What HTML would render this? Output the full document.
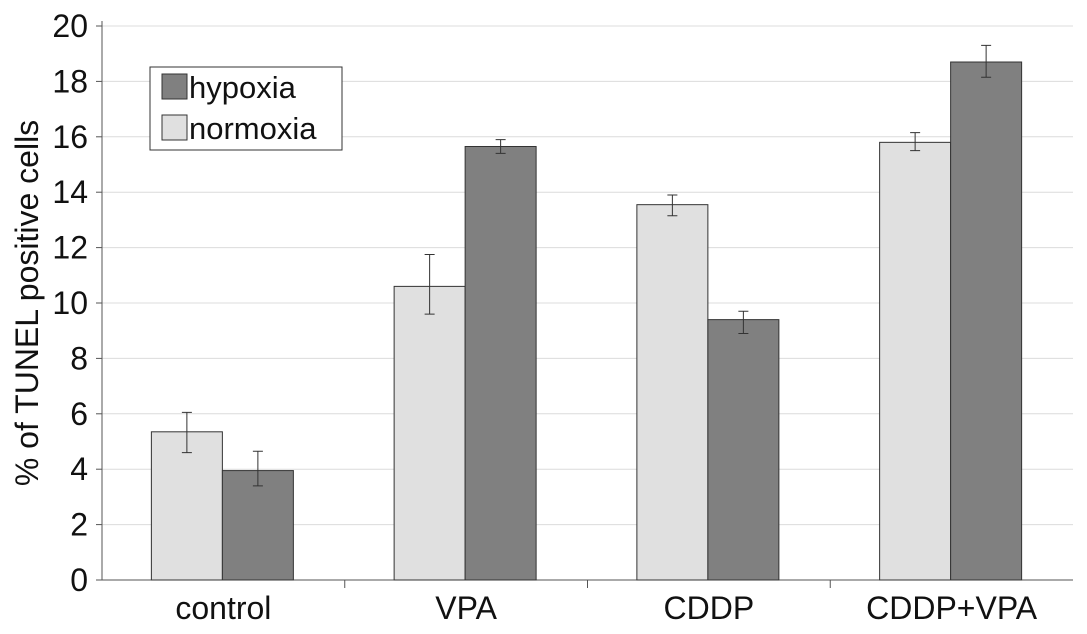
<!DOCTYPE html>
<html><head><meta charset="utf-8"><style>
html,body{margin:0;padding:0;background:#fff;}
svg{display:block;font-family:"Liberation Sans",Arial,sans-serif;}
</style></head><body>
<svg id="chart" width="1087" height="634"></svg>
<script>
const categories=["control","VPA","CDDP","CDDP+VPA"];
const normoxia=[5.35,10.6,13.55,15.8];
const normoxiaErrLow=[4.6,9.6,13.15,15.5];
const normoxiaErrHigh=[6.05,11.75,13.9,16.15];
const hypoxia=[3.95,15.65,9.4,18.7];
const hypoxiaErrLow=[3.4,15.4,8.9,18.15];
const hypoxiaErrHigh=[4.65,15.9,9.7,19.3];
const yTicks=[0,2,4,6,8,10,12,14,16,18,20];

const NS="http://www.w3.org/2000/svg";
const svg=document.getElementById('chart');
const X0=102,X1=1073,Y0=580,Y1=26;
const y=v=>Y0-(v/20)*(Y0-Y1);
const groupW=(X1-X0)/categories.length;
const gx=i=>X0+i*groupW;
function mk(t,a,p){const e=document.createElementNS(NS,t);for(const k in a)e.setAttribute(k,a[k]);(p||svg).appendChild(e);return e;}

yTicks.forEach(t=>{
  if(t>0){const g=mk('line',{x1:X0,x2:X1,y1:y(t),y2:y(t),stroke:'#dcdcdc','stroke-width':1});
  
  }
  const tk=mk('line',{x1:X0-6,x2:X0,y1:y(t),y2:y(t),stroke:'#555'});
  
  
  const tx=mk('text',{x:X0-14,y:y(t)+11,'text-anchor':'end','font-size':32,fill:'#111'});
  tx.textContent=t;
  
  
});
const ax=mk('line',{x1:X0,x2:X0,y1:Y1-5,y2:Y0,stroke:'#555'});


const xa=mk('line',{x1:X0,x2:X1,y1:Y0,y2:Y0,stroke:'#555'});



const barW=71;
function bar(i,v,lo,hi,off,fill,name){
  const x=gx(i)+groupW/2+off;
  const r=mk('rect',{x:x,y:y(v),width:barW,height:Y0-y(v),fill:fill,stroke:'#333','stroke-width':1});
  
  
  const cx=x+barW/2;
  const e=mk('path',{d:`M${cx},${y(lo)}V${y(hi)}M${cx-5},${y(lo)}H${cx+5}M${cx-5},${y(hi)}H${cx+5}`,stroke:'#333',fill:'none','stroke-width':1});
  
  
}
categories.forEach((c,i)=>{
  bar(i,normoxia[i],normoxiaErrLow[i],normoxiaErrHigh[i],-barW-1,'#e0e0e0','normoxia');
  bar(i,hypoxia[i],hypoxiaErrLow[i],hypoxiaErrHigh[i],-1,'#808080','hypoxia');
  if(i>0){const s=mk('line',{x1:gx(i),x2:gx(i),y1:Y0,y2:Y0+8,stroke:'#555'});
  
  }
  const t=mk('text',{x:gx(i)+groupW/2,y:619,'text-anchor':'middle','font-size':32,fill:'#111'});
  t.textContent=c;
  
  
});

const yt=mk('text',{transform:'translate(38,303) rotate(-90)','text-anchor':'middle','font-size':32,fill:'#111'});
yt.textContent='% of TUNEL positive cells';



const lg=mk('g',{});


mk('rect',{x:150,y:67,width:192,height:83,fill:'#fff',stroke:'#333'},lg);
const items=[['hypoxia','#808080',74],['normoxia','#e0e0e0',115]];
items.forEach(([n,f,yy])=>{
  const s=mk('rect',{x:162,y:yy,width:25,height:25,fill:f,stroke:'#333'},lg);
  
  
  const t=mk('text',{x:189,y:yy+24,'font-size':31,fill:'#111'},lg);
  t.textContent=n;
  
  
});
</script>
</body></html>
